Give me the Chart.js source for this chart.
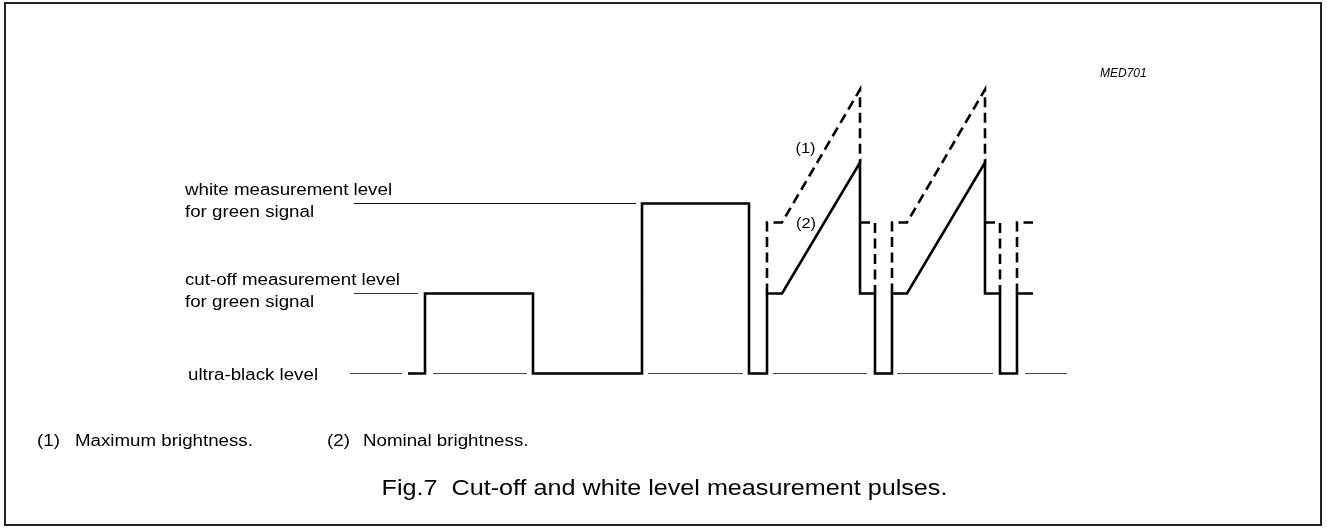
<!DOCTYPE html>
<html>
<head>
<meta charset="utf-8">
<title>Fig.7 Cut-off and white level measurement pulses</title>
<script src="https://cdn.jsdelivr.net/npm/chart.js@4"></script>
<style>
  html, body { margin: 0; padding: 0; background: #fff; }
  canvas { display: block; }
</style>
</head>
<body>
<canvas id="pulseChart" width="1327" height="529"></canvas>
<script>
// --- levels (arbitrary units, ultra-black = 0) ---
const levelValues = [4.25, 2, 0];
const levelNames = [
  ["white measurement level", "for green signal"],
  ["cut-off measurement level", "for green signal"],
  ["ultra-black level"]
];

// --- nominal brightness waveform (2), solid ---
const nominalT = [6.8, 8.5, 8.5, 19.3, 19.3, 30.2, 30.2, 40.9, 40.9, 42.7, 42.7, 44.2, 52.0, 52.0, 53.5, 53.5, 55.2, 55.2, 56.7, 64.5, 64.5, 66.0, 66.0, 67.7, 67.7, 69.3];
const nominalV = [0, 0, 2, 2, 0, 0, 4.25, 4.25, 0, 0, 2, 2, 5.275, 2, 2, 0, 0, 2, 2, 5.275, 2, 2, 0, 0, 2, 2];

// --- maximum brightness waveform (1), dashed (null = pen up) ---
const maxT = [42.7, 42.7, 44.2, 52.0, 52.0, 52.0, 52.0, 53.5, 53.5, 53.5, 55.2, 55.2, 56.7, 64.5, 64.5, 64.5, 64.5, 66.0, 66.0, 66.0, 67.7, 67.7, 69.3];
const maxV = [2, 3.775, 3.775, 7.1, 5.275, null, 3.775, 3.775, 2, null, 2, 3.775, 3.775, 7.1, 5.275, null, 3.775, 3.775, 2, null, 2, 3.775, 3.775];

// --- thin reference lines ---
const whiteRef = [1.4, 29.6];
const cutoffRef = [1.4, 7.8];
const blackRefSegs = [[1.0, 6.2], [9.3, 18.7], [30.8, 40.3], [43.3, 52.7], [55.7, 65.3], [68.5, 72.7]];

// --- curve labels ---
const curveLabels = ["(1)", "(2)"];
const curveLabelT = [46.55, 46.6];
const curveLabelV = [5.65, 3.775];

const notes = [["(1)", "Maximum brightness."], ["(2)", "Nominal brightness."]];
const caption = "Fig.7  Cut-off and white level measurement pulses.";
const figCode = "MED701";

const zip = (ts, vs) => ts.map((t, i) => ({ x: t, y: vs[i] }));
const segs = (list, v) => {
  const pts = [];
  list.forEach(([a, b], i) => {
    if (i > 0) pts.push({ x: a, y: null });
    pts.push({ x: a, y: v }, { x: b, y: v });
  });
  return pts;
};

const FONT = '"Liberation Sans", Arial, Helvetica, sans-serif';

function drawText(ctx, text, x, y, size, align, style, sx) {
  ctx.save();
  ctx.font = (style ? style + " " : "") + size + "px " + FONT;
  ctx.fillStyle = "#000";
  ctx.textBaseline = "alphabetic";
  ctx.textAlign = align || "left";
  ctx.translate(x, y);
  ctx.scale(sx || 1.17, 1); // reference text is a bit wide
  ctx.fillText(text, 0, 0);
  ctx.restore();
}

const annotations = {
  id: "annotations",
  afterDraw(chart) {
    const ctx = chart.ctx;
    const xs = chart.scales.x, ys = chart.scales.y;

    // frame
    ctx.save();
    ctx.strokeStyle = "#222";
    ctx.lineWidth = 2;
    ctx.strokeRect(5, 3, 1316, 522);
    ctx.restore();

    // level labels
    levelNames.forEach((lines, i) => {
      const py = ys.getPixelForValue(levelValues[i]);
      if (lines.length === 2) {
        drawText(ctx, lines[0], 185, py - 9, 16);
        drawText(ctx, lines[1], 185, py + 13, 16);
      } else {
        drawText(ctx, lines[0], 188, py + 6, 16);
      }
    });

    // (1) / (2) on the curves
    curveLabels.forEach((s, i) => {
      drawText(ctx, s, xs.getPixelForValue(curveLabelT[i]), ys.getPixelForValue(curveLabelV[i]) + 5, 14, "center");
    });

    drawText(ctx, figCode, 1100, 76.5, 12, "left", "italic", 1.0);

    drawText(ctx, notes[0][0], 37, 446, 16);
    drawText(ctx, notes[0][1], 75, 446, 16);
    drawText(ctx, notes[1][0], 327, 446, 16);
    drawText(ctx, notes[1][1], 363, 446, 16);

    drawText(ctx, caption, 664.5, 495, 21.5, "center");
  }
};

new Chart(document.getElementById("pulseChart"), {
  type: "line",
  data: {
    datasets: [
      {
        label: "Nominal brightness",
        data: zip(nominalT, nominalV),
        borderColor: "#000",
        borderWidth: 2.6,
        borderJoinStyle: "miter",
        borderCapStyle: "butt"
      },
      {
        label: "Maximum brightness",
        data: zip(maxT, maxV),
        borderColor: "#000",
        borderWidth: 2.6,
        borderDash: [10, 5.5],
        borderJoinStyle: "miter",
        borderCapStyle: "butt",
        spanGaps: false
      },
      {
        label: "white level",
        data: segs([whiteRef], levelValues[0]),
        borderColor: "#111",
        borderWidth: 1
      },
      {
        label: "cut-off level",
        data: segs([cutoffRef], levelValues[1]),
        borderColor: "#333",
        borderWidth: 1
      },
      {
        label: "ultra-black level",
        data: segs(blackRefSegs, levelValues[2]),
        borderColor: "#444",
        borderWidth: 1,
        spanGaps: false
      }
    ]
  },
  options: {
    responsive: false,
    animation: false,
    devicePixelRatio: 1,
    layout: { padding: { left: 340, right: 247, top: 53.5, bottom: 135.5 } },
    elements: { point: { radius: 0, hoverRadius: 0 }, line: { tension: 0, fill: false } },
    plugins: { legend: { display: false }, tooltip: { enabled: false } },
    events: [],
    scales: {
      x: { type: "linear", min: 0, max: 74, display: false },
      y: { type: "linear", min: -0.5, max: 8, display: false }
    }
  },
  plugins: [annotations]
});
</script>
</body>
</html>
